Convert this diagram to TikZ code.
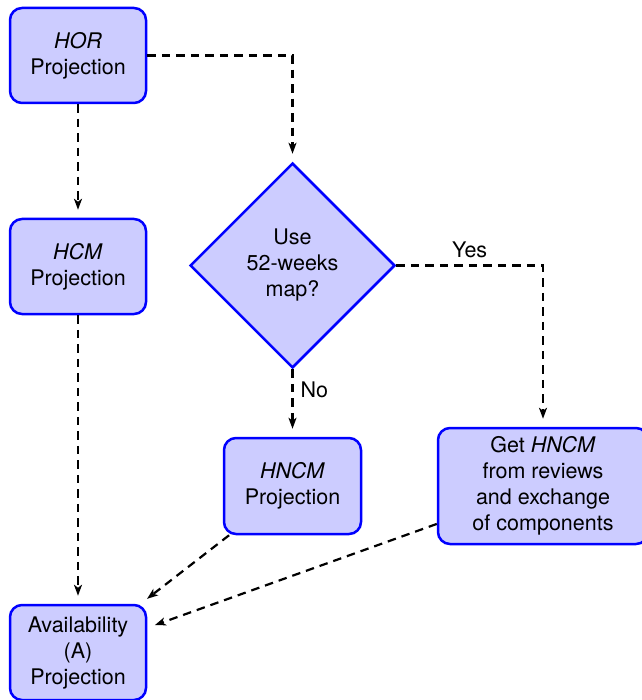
\documentclass[tikz,border=0pt]{standalone}
\usepackage{fontspec}
\setmainfont{TeX Gyre Heros}
\usetikzlibrary{shapes.geometric,arrows.meta}
\begin{document}
\begin{tikzpicture}[x=1pt,y=-1pt,
  txt/.style={font=\fontsize{21.5}{26}\selectfont},
  box/.style={txt,draw=blue,fill=blue!20,line width=2.5pt,rounded corners=12pt,align=center,inner sep=0pt},
  dec/.style={txt,draw=blue,fill=blue!20,line width=2.5pt,shape=diamond,aspect=1,minimum width=205pt,minimum height=205pt,inner sep=0pt,align=center},
  flow/.style={line width=2.2pt,dash pattern=on 8.5pt off 6pt,-{Stealth[length=11pt,width=8pt,inset=3pt]},shorten >=8pt},
  lbl/.style={txt,inner sep=7pt}]
\useasboundingbox (0,0) rectangle (641,700);
\node[box,minimum width=136pt,minimum height=95pt] (hor) at (78,55.5) {\textit{HOR}\\Projection};
\node[box,minimum width=136pt,minimum height=95pt] (hcm) at (78,266.5) {\textit{HCM}\\Projection};
\node[box,minimum width=136pt,minimum height=95pt] (avail) at (78,652.5) {Availability\\(A)\\Projection};
\node[dec] (dec) at (292.5,265.5) {Use\\52-weeks\\map?};
\node[box,minimum width=137pt,minimum height=96pt] (hncm) at (292.5,486) {\textit{HNCM}\\Projection};
\node[box,minimum width=210pt,minimum height=116pt] (get) at (543,486) {Get \textit{HNCM}\\from reviews\\and exchange\\of components};
\draw[flow] (hor.east) -| (dec.north);
\draw[flow] (hor) -- (hcm);
\draw[flow] (hcm) -- (avail);
\draw[flow] (dec.east) -| node[lbl,pos=0.25,above] (yes) {Yes} (get.north);
\draw[flow] (dec.south) -- node[lbl,pos=0.3,right] (no) {No} (hncm.north);
\draw[flow] (hncm) -- (avail);
\draw[flow] (get) -- (avail);
\end{tikzpicture}
\end{document}
